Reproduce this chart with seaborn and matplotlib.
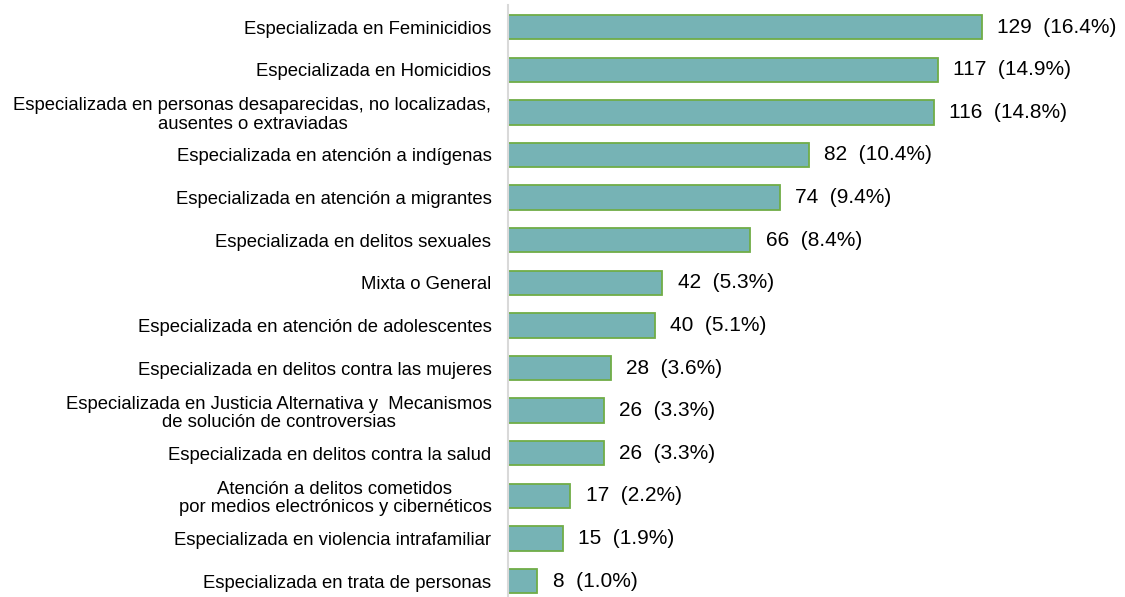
import pandas as pd
import matplotlib
matplotlib.use('Agg')
import matplotlib.pyplot as plt
import seaborn as sns

# datos
categorias = [
    'Especializada en Feminicidios',
    'Especializada en Homicidios',
    'Especializada en personas desaparecidas, no localizadas,\nausentes o extraviadas',
    'Especializada en atención a indígenas',
    'Especializada en atención a migrantes',
    'Especializada en delitos sexuales',
    'Mixta o General',
    'Especializada en atención de adolescentes',
    'Especializada en delitos contra las mujeres',
    'Especializada en Justicia Alternativa y  Mecanismos\nde solución de controversias',
    'Especializada en delitos contra la salud',
    'Atención a delitos cometidos\npor medios electrónicos y cibernéticos',
    'Especializada en violencia intrafamiliar',
    'Especializada en trata de personas',
]
valores = [129, 117, 116, 82, 74, 66, 42, 40, 28, 26, 26, 17, 15, 8]
porcentajes = [16.4, 14.9, 14.8, 10.4, 9.4, 8.4, 5.3, 5.1, 3.6, 3.3, 3.3, 2.2, 1.9, 1.0]

df = pd.DataFrame({'categoria': categorias, 'valor': valores})

sns.set_style('white')
plt.rcParams['font.family'] = ['Liberation Sans', 'DejaVu Sans']
plt.rcParams['text.color'] = 'black'
plt.rcParams['ytick.color'] = 'black'

fig = plt.figure(figsize=(11.25, 5.97), dpi=100)
ax = fig.add_axes([0.4516, 0.0, 0.5484, 0.9916])

sns.barplot(data=df, x='valor', y='categoria', orient='h', color='#76B3B5',
            saturation=1, width=0.57, edgecolor='#70AD47', linewidth=1.3, ax=ax)

etiquetas = [f'{v}  ({p:.1f}%)' for v, p in zip(valores, porcentajes)]
ax.bar_label(ax.containers[0], labels=etiquetas, padding=11, fontsize=15, color='black')

ax.set_xlim(0, 168)
ax.set_ylim(len(categorias) - 1 + 0.375, -0.52)
ax.set_xlabel('')
ax.set_ylabel('')
ax.set_xticks([])
for s in ['top', 'right', 'bottom']:
    ax.spines[s].set_visible(False)
ax.spines['left'].set_color('#D9D9D9')
ax.spines['left'].set_linewidth(1.5)
ax.tick_params(axis='y', length=0, pad=12, labelsize=13.3, labelcolor='black')
for t in ax.get_yticklabels():
    t.set_multialignment('center')
    t.set_linespacing(1.12)

fig.savefig('out.png', dpi=100)
